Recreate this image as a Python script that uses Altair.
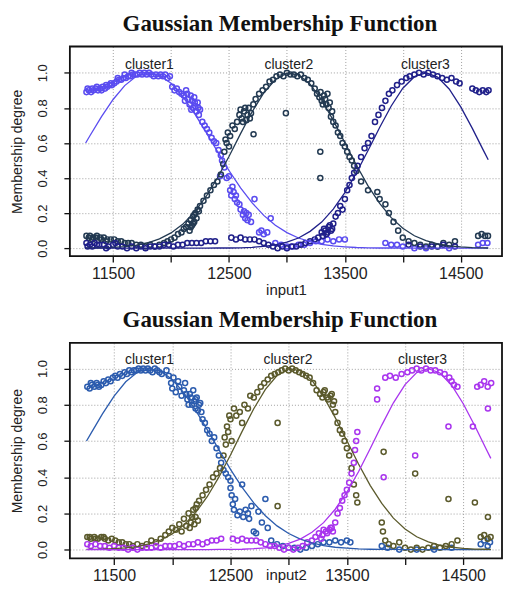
import altair as alt
import pandas as pd

clusters = ["cluster1", "cluster2", "cluster3"]
x_ticks = [11500, 12000, 12500, 13000, 13500, 14000, 14500]
y_ticks = [0.0, 0.2, 0.4, 0.6, 0.8, 1.0]

# fitted membership curves
curve_x = [11263, 11300, 11400, 11500, 11600, 11700, 11800, 11900, 12000, 12100,
           12200, 12300, 12400, 12500, 12600, 12700, 12800, 12900, 13000, 13100,
           13200, 13300, 13400, 13500, 13600, 13700, 13800, 13900, 14000, 14100,
           14200, 14300, 14400, 14500, 14600, 14700, 14737]
curve_c1 = [0.600, 0.641, 0.750, 0.848, 0.927, 0.980, 1.000, 0.986, 0.940, 0.866,
            0.771, 0.663, 0.552, 0.443, 0.344, 0.258, 0.187, 0.131, 0.089, 0.058,
            0.037, 0.022, 0.013, 0.008, 0.004, 0.002, 0.001, 0.001, 0.000, 0.000,
            0.000, 0.000, 0.000, 0.000, 0.000, 0.000, 0.000]
curve_c2 = [0.001, 0.001, 0.002, 0.005, 0.009, 0.017, 0.031, 0.053, 0.087, 0.136,
            0.204, 0.292, 0.400, 0.523, 0.653, 0.778, 0.885, 0.962, 0.998, 0.989,
            0.935, 0.845, 0.729, 0.601, 0.473, 0.355, 0.255, 0.174, 0.114, 0.071,
            0.043, 0.024, 0.013, 0.007, 0.003, 0.002, 0.001]
curve_c3 = [0.000, 0.000, 0.000, 0.000, 0.000, 0.000, 0.000, 0.000, 0.000, 0.000,
            0.000, 0.000, 0.001, 0.001, 0.002, 0.005, 0.010, 0.019, 0.034, 0.058,
            0.096, 0.149, 0.223, 0.317, 0.430, 0.557, 0.688, 0.811, 0.912, 0.978,
            1.000, 0.976, 0.908, 0.806, 0.683, 0.552, 0.504]

# ---- input1 observations ----
in1_c1 = [(11270,.89),(11290,.90),(11310,.89),(11330,.90),(11350,.91),(11370,.90),(11390,.91),
          (11410,.92),(11430,.91),(11450,.92),(11470,.93),(11490,.93),(11510,.94),(11530,.95),
          (11550,.96),(11570,.96),(11590,.97),(11610,.97),(11630,.98),(11650,.98),(11670,.99),
          (11690,.99),(11710,.99),(11730,1.0),(11750,.99),(11770,1.0),(11790,.99),(11810,1.0),
          (11830,.99),(11850,.98),(11870,.99),(11890,.98),(11910,.99),(11930,.98),(11950,.99),
          (11970,.97),(11990,.98),(12010,.92),(12030,.90),(12050,.91),(12070,.89),(12090,.88),
          (12110,.87),(12130,.90),(12150,.85),(12160,.82),(12170,.87),(12180,.84),(12190,.80),
          (12200,.86),(12210,.81),(12220,.78),(12230,.83),(12240,.76),(12250,.79),(12270,.72),
          (12290,.70),(12310,.68),(12330,.66),(12350,.63),(12370,.61),(12390,.60),(12410,.56),
          (12423,.41),(12430,.53),(12440,.50),(12460,.46),(12480,.40),(12500,.41),(12510,.33),
          (12520,.30),(12530,.35),(12540,.32),(12550,.28),(12560,.30),(12570,.26),(12590,.25),
          (12600,.22),(12620,.19),(12630,.21),(12640,.17),(12650,.20),(12660,.16),(12670,.19),
          (12690,.15),(12720,.28),(12760,.09),(12780,.10),(12800,.08),(12830,.09),(12860,.17),
          (12900,.03),(12950,.02),(13000,.01),(13050,.01),(13100,.02),(13150,.02),(13200,.03),
          (13250,.04),(13300,.04),(13350,.05),(13400,.04),(13450,.05),(13500,.05),(13850,.03),
          (13900,.02),(13950,.02),(14000,.01),(14100,.00),(14200,.00),(14300,.01),(14400,.00),
          (14650,.02),(14690,.03),(14730,.03),
          (11280,.91),(11320,.91),(11360,.92),(11400,.90),(11440,.93),(11480,.94),(11540,.97),
          (11600,.99),(11660,1.0),(12120,.84),(12140,.88),(12175,.79),(12205,.83),(12235,.80)]
in1_c2 = [(11270,.07),(11300,.07),(11330,.06),(11360,.07),(11390,.06),(11420,.06),(11450,.05),
          (11480,.05),(11510,.05),(11540,.04),(11570,.04),(11600,.03),(11630,.03),(11660,.03),
          (11700,.02),(11740,.02),(11780,.01),(11820,.02),(11860,.01),(11900,.02),(11940,.03),
          (11970,.04),(12000,.05),(12030,.06),(12060,.08),(12090,.09),(12110,.11),(12130,.12),
          (12150,.14),(12170,.16),(12180,.13),(12190,.18),(12200,.15),(12210,.20),(12230,.22),
          (12250,.24),(12280,.27),(12310,.30),(12340,.33),(12370,.36),(12400,.38),(12430,.42),
          (12450,.48),(12460,.55),(12470,.62),(12480,.60),(12490,.66),(12500,.58),(12510,.64),
          (12530,.70),(12550,.68),(12570,.72),(12590,.76),(12610,.74),(12630,.78),(12650,.73),
          (12670,.80),(12690,.77),(12710,.82),(12730,.85),(12760,.88),(12790,.90),(12820,.92),
          (12850,.95),(12880,.96),(12910,.98),(12940,.99),(12970,.98),(13000,1.0),(13030,.99),
          (13060,.99),(13090,.98),(13120,.99),(13150,.97),(13180,.96),(13210,.94),(13240,.91),
          (13260,.88),(13280,.86),(13300,.84),(13320,.87),(13340,.82),(13360,.80),(13380,.75),
          (13400,.72),(13420,.70),(13440,.66),(13460,.64),(13480,.60),(13500,.58),(13520,.55),
          (13540,.52),(13560,.50),(13580,.47),(13600,.44),(13640,.38),(13700,.33),(13780,.32),
          (13800,.28),(13850,.25),(13880,.20),(13920,.15),(13960,.10),(14000,.06),(14050,.04),
          (14100,.03),(14150,.02),(14200,.01),(14250,.02),(14300,.01),(14350,.03),(14400,.02),
          (14450,.04),(14650,.07),(14680,.08),(14710,.07),(14735,.07),(12712,.65),(12991,.77),
          (13288,.55),(13288,.40),
          (12160,.10),(12170,.12),(12190,.14),(12200,.19),(12220,.17),(12240,.21),(12600,.79),
          (12620,.72),(12640,.80),(12660,.76),(12680,.74),(13290,.89),(13310,.82),(13330,.85),
          (13350,.88),(13370,.83),(13390,.78),(11290,.06),(11320,.05),(11350,.06),(11400,.05),
          (11440,.04)]
in1_c3 = [(11270,.03),(11300,.02),(11340,.03),(11380,.02),(11420,.02),(11460,.01),(11500,.02),
          (11540,.01),(11580,.01),(11620,.00),(11660,.01),(11700,.00),(11740,.01),(11780,.00),
          (11820,.01),(11860,.01),(11900,.01),(11940,.02),(11980,.02),(12020,.01),(12060,.02),
          (12100,.02),(12140,.03),(12180,.03),(12220,.03),(12260,.03),(12300,.04),(12340,.04),
          (12380,.04),(12520,.06),(12560,.05),(12600,.06),(12640,.05),(12680,.05),(12720,.05),
          (12760,.04),(12800,.03),(12840,.02),(12880,.01),(12920,.00),(12960,.01),(13000,.00),
          (13040,.01),(13080,.01),(13120,.02),(13160,.03),(13200,.04),(13240,.05),(13270,.06),
          (13300,.09),(13320,.11),(13340,.08),(13360,.12),(13380,.10),(13400,.14),(13420,.18),
          (13440,.20),(13460,.24),(13480,.22),(13500,.28),(13520,.33),(13540,.36),(13560,.40),
          (13580,.43),(13610,.47),(13640,.52),(13670,.57),(13700,.60),(13730,.64),(13760,.72),
          (13790,.76),(13820,.80),(13850,.84),(13880,.88),(13910,.90),(13950,.93),(13990,.95),
          (14030,.97),(14060,.98),(14100,.99),(14140,1.0),(14180,.99),(14220,1.0),(14260,.99),
          (14300,.98),(14340,.97),(14380,.96),(14420,.97),(14460,.95),(14490,.94),(14600,.91),
          (14630,.90),(14660,.89),(14690,.90),(14720,.89),(14740,.90),(14050,.02),(14150,.01),
          (14250,.01),(14350,.02),(14450,.01),
          (13310,.07),(13330,.10),(13350,.09),(13370,.13),(13390,.11),(11280,.01),(11320,.01),
          (11360,.02),(11440,.00),(11520,.03)]

# ---- input2 observations ----
in2_c1 = [(11270,.90),(11290,.89),(11310,.91),(11330,.90),(11350,.92),(11370,.90),(11390,.91),
          (11410,.93),(11430,.92),(11450,.94),(11470,.93),(11490,.95),(11510,.96),(11530,.95),
          (11550,.97),(11570,.96),(11590,.98),(11610,.97),(11630,.99),(11650,.98),(11670,.99),
          (11690,.99),(11710,1.0),(11730,.99),(11750,1.0),(11770,.99),(11790,1.0),(11810,.99),
          (11830,.98),(11850,1.0),(11870,.99),(11890,.98),(11910,.97),(11950,.99),(11970,.96),
          (11990,.92),(12000,.89),(12010,.95),(12030,.87),(12050,.93),(12060,.90),(12080,.85),
          (12100,.88),(12110,.92),(12130,.83),(12150,.86),(12170,.80),(12180,.88),(12190,.82),
          (12200,.78),(12210,.84),(12230,.80),(12250,.76),(12260,.72),(12280,.70),(12300,.66),
          (12320,.64),(12340,.60),(12360,.62),(12380,.56),(12400,.52),(12420,.48),(12440,.44),
          (12460,.42),(12480,.40),(12500,.38),(12500,.34),(12510,.30),(12520,.25),(12530,.22),
          (12540,.28),(12560,.19),(12580,.21),(12600,.36),(12610,.18),(12630,.22),(12650,.20),
          (12660,.17),(12680,.24),(12700,.10),(12720,.09),(12740,.21),(12770,.15),(12800,.28),
          (12820,.12),(12850,.05),(12900,.03),(12950,.02),(13000,.01),(13050,.01),(13100,.00),
          (13150,.01),(13200,.02),(13250,.03),(13300,.04),(13350,.04),(13400,.05),(13450,.04),
          (13500,.05),(13530,.04),(13800,.02),(13850,.01),(13950,.00),(14100,.00),(14250,.00),
          (14400,.01),(14650,.03),(14680,.05),(14710,.02),(14730,.04),
          (12120,.86),(12140,.80),(12160,.84),(12200,.83),(12220,.77),(12240,.81),(11300,.92),
          (11360,.91)]
in2_c2 = [(11270,.07),(11300,.06),(11330,.07),(11360,.06),(11390,.07),(11420,.06),(11450,.05),
          (11480,.06),(11510,.05),(11540,.04),(11570,.04),(11600,.03),(11630,.03),(11660,.02),
          (11700,.03),(11740,.02),(11780,.03),(11820,.05),(11860,.04),(11900,.06),(11940,.08),
          (11970,.10),(12000,.12),(12030,.11),(12060,.14),(12080,.10),(12100,.17),(12120,.13),
          (12140,.20),(12160,.15),(12180,.22),(12200,.18),(12210,.25),(12230,.27),(12260,.30),
          (12290,.33),(12320,.36),(12350,.40),(12380,.42),(12410,.45),(12440,.52),(12450,.62),
          (12460,.58),(12470,.68),(12480,.65),(12490,.74),(12500,.72),(12510,.60),(12530,.78),
          (12550,.74),(12580,.76),(12600,.70),(12620,.80),(12650,.78),(12670,.85),(12700,.84),
          (12730,.87),(12760,.90),(12790,.92),(12820,.94),(12850,.96),(12880,.97),(12910,.98),
          (12940,.99),(12970,1.0),(13000,.99),(13030,1.0),(13060,.99),(13090,.98),(13120,.97),
          (13150,.96),(13180,.95),(13210,.92),(13240,.88),(13270,.86),(13300,.87),(13330,.84),
          (13360,.85),(13380,.80),(13400,.76),(13420,.70),(13440,.66),(13460,.64),(13480,.60),
          (13500,.56),(13520,.52),(13540,.45),(13560,.36),(13580,.30),(13590,.26),(13800,.15),
          (13810,.10),(13830,.05),(13860,.03),(13900,.02),(13950,.04),(14000,.01),(14050,.00),
          (14100,.01),(14150,.00),(14200,.01),(14250,.02),(14300,.01),(14350,.02),(14400,.03),
          (14450,.05),(14650,.07),(14680,.08),(14710,.06),(14735,.07),(12905,.70),(12905,.24),
          (14087,.42),(14373,.28),(14600,.26),(14712,.18),(13816,.54),
          (12150,.12),(12170,.18),(12190,.14),(12200,.23),(12220,.16),(13290,.84),(13310,.88),
          (13340,.83),(13370,.86),(13390,.82),(11290,.07),(11340,.06),(11410,.07)]
in2_c3 = [(11270,.03),(11300,.02),(11340,.03),(11380,.02),(11420,.02),(11460,.01),(11500,.02),
          (11540,.01),(11580,.01),(11620,.00),(11660,.01),(11700,.00),(11740,.01),(11780,.01),
          (11820,.01),(11860,.02),(11900,.01),(11940,.02),(11980,.02),(12020,.02),(12060,.03),
          (12100,.02),(12140,.03),(12180,.03),(12220,.04),(12260,.03),(12300,.04),(12340,.05),
          (12380,.05),(12420,.06),(12520,.06),(12560,.05),(12600,.06),(12640,.05),(12680,.05),
          (12720,.05),(12760,.04),(12800,.03),(12840,.02),(12880,.02),(12920,.01),(12960,.00),
          (13000,.01),(13040,.00),(13080,.01),(13120,.02),(13160,.04),(13200,.05),(13230,.07),
          (13260,.09),(13290,.08),(13320,.10),(13350,.11),(13370,.12),(13400,.15),(13420,.20),
          (13440,.23),(13460,.27),(13480,.30),(13500,.33),(13520,.37),(13540,.42),(13560,.48),
          (13570,.55),(13580,.60),(13590,.65),(13760,.89),(13760,.83),(13816,.40),(13830,.95),
          (13870,.96),(13920,.95),(13970,.97),(14020,.98),(14060,.99),(14100,1.0),(14140,.99),
          (14180,1.0),(14220,.99),(14260,.99),(14300,.98),(14340,.97),(14380,.95),(14400,.93),
          (14420,.91),(14450,.90),(14087,.52),(14373,.68),(14583,.68),(14620,.90),(14650,.91),
          (14680,.93),(14710,.90),(14740,.92),(14712,.78),
          (13300,.11),(13330,.09),(13360,.12),(13380,.10),(13280,.06)]

label_x_in1 = [11813, 13017, 14195]
label_x_in2 = [11804, 12994, 14150]
label_y = 1.045

colors_in1 = ["#5a4cf0", "#233a52", "#20208a"]
colors_in2 = ["#2c5cae", "#5b5a2c", "#a935ee"]


def points_frame(series):
    rows = []
    for name, pts in zip(clusters, series):
        for px, py in pts:
            rows.append({"x": px, "y": py, "cluster": name})
    return pd.DataFrame(rows)


def curve_frame():
    rows = []
    for name, ys in zip(clusters, [curve_c1, curve_c2, curve_c3]):
        for cx, cy in zip(curve_x, ys):
            rows.append({"x": cx, "y": cy, "cluster": name})
    return pd.DataFrame(rows)


def panel(series, colors, label_xs, xtitle, xdom, ydom, w, h, tpad):
    cscale = alt.Scale(domain=clusters, range=colors)
    xenc = alt.X("x:Q", scale=alt.Scale(domain=xdom, nice=False, zero=False),
                 axis=alt.Axis(values=x_ticks, format="d",
                               labelExpr="datum.value % 1000 == 500 ? datum.label : ''",
                               title=xtitle, grid=True, gridDash=[1, 2], gridColor="#a0a0a0",
                               domain=False, tickSize=6, tickWidth=1.3, tickColor="#111",
                               labelFont="Liberation Sans", labelFontSize=16, labelColor="#222",
                               labelPadding=3, titleFont="Liberation Sans", titleFontSize=15,
                               titleFontWeight="normal", titleColor="#222", titlePadding=tpad))
    yenc = alt.Y("y:Q", scale=alt.Scale(domain=ydom, nice=False, zero=False),
                 axis=alt.Axis(values=y_ticks, format=".1f", labelAngle=270,
                               labelAlign="center", labelBaseline="bottom",
                               title="Membership degree", grid=True, gridDash=[1, 2],
                               gridColor="#a0a0a0", domain=False, tickSize=6, tickWidth=1.3,
                               tickColor="#111", labelFont="Liberation Sans", labelFontSize=13,
                               labelColor="#222", labelPadding=14,
                               titleFont="Liberation Sans", titleFontSize=14,
                               titleFontWeight="normal", titleColor="#222", titlePadding=12))
    cenc = alt.Color("cluster:N", scale=cscale, legend=None)
    pts = alt.Chart(points_frame(series)).mark_point(
        shape="circle", filled=False, size=26, strokeWidth=1.5, opacity=1
    ).encode(x=xenc, y=yenc, color=cenc)
    lines = alt.Chart(curve_frame()).mark_line(strokeWidth=1.3).encode(
        x=xenc, y=yenc, color=cenc)
    labels = alt.Chart(pd.DataFrame({"x": label_xs, "y": [label_y] * 3, "label": clusters})
                       ).mark_text(font="Liberation Sans", fontSize=14, color="#222").encode(
        x=xenc, y=yenc, text="label:N")
    box = alt.Chart(pd.DataFrame({"b": [0]})).mark_rect(
        fill=None, fillOpacity=0, stroke="#111", strokeWidth=1.8
    ).encode(x=alt.value(0), x2=alt.value(w), y=alt.value(0), y2=alt.value(h))
    return alt.layer(pts, lines, labels, box).properties(
        width=w, height=h,
        title=alt.TitleParams("Gaussian Membership Function", font="Liberation Serif",
                              fontSize=23, fontWeight="bold", color="#111",
                              anchor="middle", offset=10, dx=-6))


top = panel([in1_c1, in1_c2, in1_c3], colors_in1, label_x_in1, "input1",
            [11127, 14856], [-0.045, 1.15], 433, 210, 1)
bottom = panel([in2_c1, in2_c2, in2_c3], colors_in2, label_x_in2, "input2",
               [11120, 14833], [-0.049, 1.142], 433, 216, -16)

chart = alt.vconcat(top, bottom, spacing=12).resolve_scale(
    color="independent"
).properties(
    padding={"left": 2, "top": 4, "right": 0, "bottom": 0},
    background="white"
).configure_view(strokeWidth=0)

chart.save("out.html", embed_options={"renderer": "svg", "actions": False})
